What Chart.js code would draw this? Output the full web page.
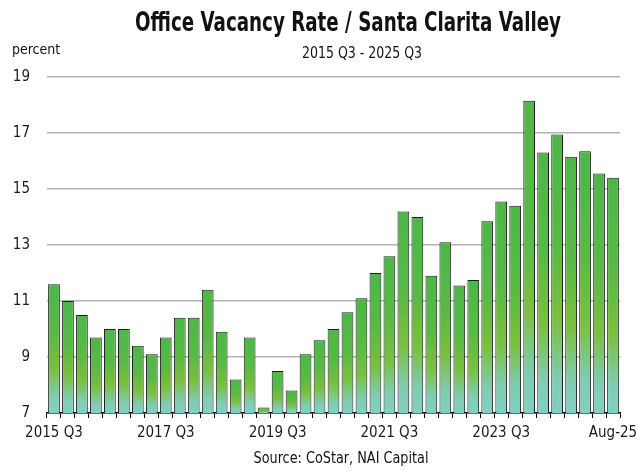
<!DOCTYPE html>
<html>
<head>
<meta charset="utf-8">
<script src="https://cdn.jsdelivr.net/npm/chart.js@4/dist/chart.umd.min.js"></script>
<style>
  html, body { margin: 0; padding: 0; background: #fff; }
  #wrap { width: 636px; height: 472px; }
</style>
</head>
<body>
<div id="wrap"><canvas id="vacancyChart" width="636" height="472"></canvas></div>
<script>
// quarters shown on the x axis
const categories = [
    "2015 Q3", "2015 Q4",
    "2016 Q1", "2016 Q2", "2016 Q3", "2016 Q4",
    "2017 Q1", "2017 Q2", "2017 Q3", "2017 Q4",
    "2018 Q1", "2018 Q2", "2018 Q3", "2018 Q4",
    "2019 Q1", "2019 Q2", "2019 Q3", "2019 Q4",
    "2020 Q1", "2020 Q2", "2020 Q3", "2020 Q4",
    "2021 Q1", "2021 Q2", "2021 Q3", "2021 Q4",
    "2022 Q1", "2022 Q2", "2022 Q3", "2022 Q4",
    "2023 Q1", "2023 Q2", "2023 Q3", "2023 Q4",
    "2024 Q1", "2024 Q2", "2024 Q3", "2024 Q4",
    "2025 Q1", "2025 Q2", "2025 Q3"
];

// vacancy rate, percent
const vacancy = [
    11.6, 11.0, 10.5, 9.7, 10.0, 10.0, 9.4, 9.1, 9.7, 10.4,
    10.4, 11.4, 9.9, 8.2, 9.7, 7.2, 8.5, 7.8, 9.1, 9.6,
    10.0, 10.6, 11.1, 12.0, 12.6, 14.2, 14.0, 11.9, 13.1, 11.55,
    11.75, 13.85, 14.55, 14.4, 18.15, 16.3, 16.95, 16.15, 16.35, 15.55,
    15.4
];

// only every 8th quarter gets a label
const xTickLabels = ["2015 Q3", "2017 Q3", "2019 Q3", "2021 Q3", "2023 Q3", "Aug-25"];
const tickEvery = 8;
const yMin = 7, yMax = 19, yStep = 2;

const chartTitle = "Office Vacancy Rate / Santa Clarita Valley";
const chartSubtitle = "2015 Q3 - 2025 Q3";
const yUnit = "percent";
const sourceNote = "Source: CoStar, NAI Capital";

const FONT = '"Liberation Sans Narrow", "Arial Narrow", "DejaVu Sans Condensed", sans-serif';

// green on top, yellow-green in the middle, teal at the base of every bar
function barGradient(c) {
    const chart = c.chart;
    const ys = chart.scales.y;
    if (!ys || c.raw == null) return '#4db848';
    const top = ys.getPixelForValue(c.raw);
    const base = ys.getPixelForValue(yMin);
    if (!isFinite(top) || !isFinite(base) || base - top < 1) return '#4db848';
    const g = chart.ctx.createLinearGradient(0, top, 0, base);
    g.addColorStop(0, '#4cb748');
    g.addColorStop(0.4, '#58ba45');
    g.addColorStop(0.66, '#7bbf3d');
    g.addColorStop(0.88, '#80ccb4');
    g.addColorStop(1, '#80d0c4');
    return g;
}

// squeeze a line of text to a given width (the original uses a narrow face)
function fitText(ctx, text, cx, y, width) {
    const w = ctx.measureText(text).width;
    ctx.save();
    ctx.translate(cx, y);
    ctx.scale(Math.min(1, width / w), 1);
    ctx.fillText(text, 0, 0);
    ctx.restore();
}

// title, subtitle, unit and source are drawn straight on the canvas
const textPlugin = {
    id: 'texts',
    afterDraw(chart) {
        const ctx = chart.ctx;
        ctx.save();
        ctx.fillStyle = '#111';
        ctx.textBaseline = 'alphabetic';
        ctx.textAlign = 'center';

        ctx.font = 'bold 26px ' + FONT;
        fitText(ctx, chartTitle, 348, 31, 426);

        ctx.font = '15px ' + FONT;
        fitText(ctx, chartSubtitle, 362, 58, 120);
        fitText(ctx, sourceNote, 341, 463, 175);

        ctx.textAlign = 'left';
        ctx.font = '14px ' + FONT;
        ctx.fillText(yUnit, 12, 54);
        ctx.restore();
    }
};

const config = {
    type: 'bar',
    data: {
        labels: categories,
        datasets: [{
            label: 'Vacancy rate',
            data: vacancy,
            backgroundColor: barGradient,
            borderColor: '#1e1e1e',
            borderWidth: 1,
            categoryPercentage: 1,
            barPercentage: 0.84
        }]
    },
    options: {
        responsive: false,
        animation: false,
        devicePixelRatio: 1,
        layout: { padding: { top: 77, right: 16, bottom: 0, left: 0 } },
        plugins: {
            legend: { display: false },
            tooltip: { enabled: false }
        },
        scales: {
            x: {
                grid: {
                    offset: true,
                    drawOnChartArea: false,
                    drawTicks: true,
                    tickLength: 5,
                    color: '#000',
                    lineWidth: 1
                },
                border: { display: true, color: '#000', width: 1.5 },
                ticks: {
                    autoSkip: false,
                    maxRotation: 0,
                    minRotation: 0,
                    padding: 6,
                    color: '#1a1a1a',
                    font: { family: FONT, size: 15 },
                    callback: (v, i) => (i % tickEvery === 0 ? xTickLabels[i / tickEvery] : '')
                },
                afterFit(s) {
                    s.height = 59;
                    s.paddingLeft = 0;
                    s.paddingRight = 0;
                }
            },
            y: {
                min: yMin,
                max: yMax,
                grid: { color: '#b4b4b4', lineWidth: 1.5, drawTicks: false },
                border: { display: false },
                ticks: {
                    stepSize: yStep,
                    padding: 17,
                    color: '#1a1a1a',
                    font: { family: FONT, size: 15 }
                },
                afterFit(s) {
                    s.width = 47;
                    s.paddingTop = 0;
                    s.paddingBottom = 0;
                }
            }
        }
    },
    plugins: [textPlugin]
};

const ctx = document.getElementById('vacancyChart').getContext('2d');
const vacancyChart = new Chart(ctx, config);
</script>
</body>
</html>
